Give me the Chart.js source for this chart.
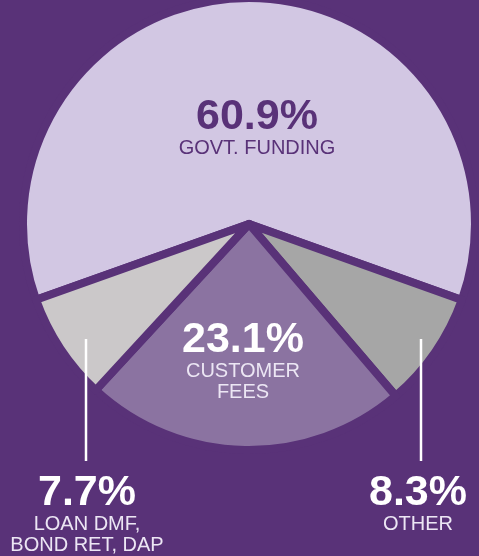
<!DOCTYPE html>
<html>
<head>
<meta charset="utf-8">
<script src="https://cdn.jsdelivr.net/npm/chart.js@4"></script>
<style>
  body { margin: 0; background: #593278; }
  #wrap { position: relative; width: 479px; height: 556px; }
</style>
</head>
<body>
<div id="wrap"><canvas id="fundingChart"></canvas></div>
<script>
// funding sources, clockwise from the top slice
const categories = ['GOVT. FUNDING', 'OTHER', 'CUSTOMER FEES', 'LOAN DMF, BOND RET, DAP'];
const shares = [60.9, 8.3, 23.1, 7.7];
const sliceColors = ['#d2c7e3', '#a6a6a6', '#8b73a1', '#cbc8c9'];
const bgColor = '#593278';

// label layout, offsets from the pie centre (not data)
const labelSpots = [
    { dx: 8, dy: -95, lines: ['GOVT. FUNDING'], pctColor: bgColor, txtColor: bgColor },
    { dx: 169, dy: 281, lines: ['OTHER'], lead: { dx: 172, y1: 115, y2: 237 } },
    { dx: -6, dy: 128, lines: ['CUSTOMER', 'FEES'] },
    { dx: -162, dy: 281, lines: ['LOAN DMF,', 'BOND RET, DAP'], lead: { dx: -163, y1: 115, y2: 237 } }
];

const labelPlugin = {
    id: 'sliceLabels',
    afterDraw(chart) {
        const ctx = chart.ctx;
        const arc = chart.getDatasetMeta(0).data[0];
        const cx = arc.x, cy = arc.y;
        ctx.save();
        ctx.textAlign = 'center';
        ctx.textBaseline = 'alphabetic';
        labelSpots.forEach((spot, i) => {
            if (spot.lead) {
                ctx.strokeStyle = '#ffffff';
                ctx.lineWidth = 2.5;
                ctx.beginPath();
                ctx.moveTo(cx + spot.lead.dx, cy + spot.lead.y1);
                ctx.lineTo(cx + spot.lead.dx, cy + spot.lead.y2);
                ctx.stroke();
            }
            const x = cx + spot.dx;
            let y = cy + spot.dy;
            ctx.fillStyle = spot.pctColor || '#ffffff';
            ctx.font = 'bold 43px "Liberation Sans", Arial, sans-serif';
            ctx.fillText(shares[i].toFixed(1) + '%', x, y);
            ctx.fillStyle = spot.txtColor || '#ece6f4';
            ctx.font = '20px "Liberation Sans", Arial, sans-serif';
            y += 25;
            spot.lines.forEach(line => {
                ctx.fillText(line, x, y);
                y += 21;
            });
        });
        ctx.restore();
    }
};

const chart = new Chart(document.getElementById('fundingChart'), {
    type: 'pie',
    data: {
        labels: categories,
        datasets: [{
            data: shares,
            backgroundColor: sliceColors,
            borderColor: bgColor,
            borderWidth: 8,
            borderJoinStyle: 'round',
            clip: false
        }]
    },
    options: {
        responsive: true,
        maintainAspectRatio: false,
        animation: false,
        events: [],
        rotation: -109.6,
        radius: 226,
        layout: { padding: { left: 19, right: 0, top: 0, bottom: 108 } },
        plugins: {
            legend: { display: false },
            tooltip: { enabled: false }
        }
    },
    plugins: [labelPlugin]
});
</script>
</body>
</html>
